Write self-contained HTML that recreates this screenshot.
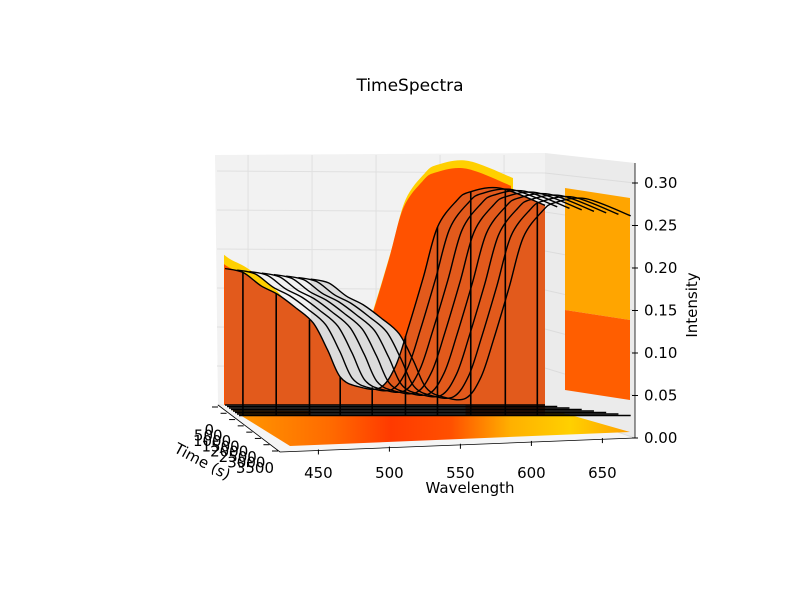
<!DOCTYPE html>
<html><head><meta charset="utf-8"><style>
body{margin:0;background:#fff}
svg text{font-family:"DejaVu Sans","Liberation Sans",sans-serif;fill:#000}
</style></head><body>
<svg id="chart" width="800" height="600" viewBox="0 0 800 600" xmlns="http://www.w3.org/2000/svg">
<defs>
<linearGradient id="floorGrad" x1="0" x2="1" y1="0" y2="0">
<stop offset="0" stop-color="#ff9a00"/><stop offset="0.25" stop-color="#ff6a00"/><stop offset="0.4" stop-color="#ff3a00"/><stop offset="0.55" stop-color="#ff5000"/><stop offset="0.7" stop-color="#ffb000"/><stop offset="0.85" stop-color="#ffd000"/><stop offset="1" stop-color="#ffa000"/>
</linearGradient>
<clipPath id="backClip"><rect x="224" y="100" width="321" height="330"/></clipPath>
</defs>
<text x="410" y="91" font-size="17" text-anchor="middle">TimeSpectra</text>
<polygon points="215,155 545,153 545,410 218,405" fill="#f2f2f2"/>
<polygon points="545,153 635,163 635,438 545,410" fill="#ebebeb"/>
<polygon points="218,405 545,410 635,438 280,452" fill="#f5f5f5"/>
<g id="grid"></g>
<polygon points="232,410 560,412 630,432 290,446" fill="url(#floorGrad)"/>
<g id="fills" clip-path="url(#backClip)"></g>
<polygon points="565,188 630,198 630,320 565,310" fill="#ffa500"/>
<polygon points="565,310 630,320 630,400 565,390" fill="#ff5e00"/>
<g id="lines"></g>
<g id="axes"></g>
<text x="470" y="493" font-size="15" text-anchor="middle">Wavelength</text>
<text x="697" y="305" font-size="15" text-anchor="middle" transform="rotate(-90 697 305)">Intensity</text>
<text x="200" y="466" font-size="15" text-anchor="middle" transform="rotate(28 200 466)">Time (s)</text>
</svg>
<script>
const wavelengths=[432,446,460,473,487,501,512,522,535,553,565,575,587,598,613,623,647,682];
const baseIntensity=[0.175,0.17,0.153,0.142,0.125,0.105,0.071,0.036,0.024,0.022,0.049,0.098,0.164,0.228,0.262,0.273,0.278,0.256];
const times=[0,500,1000,1500,2000,2500,3000,3500];
const peakShift=[0,8,16,24,32,40,48,56];
const stemWavelengths=[446,472,498,522,547,573,598,624,651,676];
const xTicks=[450,500,550,600,650];
const zTicks=[0,0.05,0.1,0.15,0.2,0.25,0.3];
const zTickLabels=["0.00","0.05","0.10","0.15","0.20","0.25","0.30"];
const NS="http://www.w3.org/2000/svg";
function X(w,k){return 225+(w-432)*1.28+k*2;}
function Y(z,k){return 405+k*1.5-z*780;}
function mk(tag,parent,attrs){const e=document.createElementNS(NS,tag);for(const a in attrs)e.setAttribute(a,attrs[a]);parent.appendChild(e);return e;}
function interp(w){if(w<=wavelengths[0])return baseIntensity[0];for(let i=1;i<wavelengths.length;i++){if(w<=wavelengths[i]){const f=(w-wavelengths[i-1])/(wavelengths[i]-wavelengths[i-1]);return baseIntensity[i-1]+f*(baseIntensity[i]-baseIntensity[i-1]);}}return baseIntensity[baseIntensity.length-1];}
const grid=document.getElementById('grid'),fills=document.getElementById('fills'),lines=document.getElementById('lines'),axes=document.getElementById('axes');
xTicks.forEach(w=>{const l=mk('line',grid,{x1:X(w,0),x2:X(w,0),y1:155,y2:405,stroke:'#e0e0e0'});

});
zTicks.forEach(z=>{const y=Y(z,0);if(y<156)return;const l=mk('line',grid,{x1:217,x2:545,y1:y,y2:y+2,stroke:'#e0e0e0'});


const r=mk('line',grid,{x1:545,x2:635,y1:y+2,y2:438-z*850,stroke:'#dcdcdc'});

});
function curvePts(k,dx,dz){return wavelengths.map((w,i)=>[X(w+peakShift[k],k)+(dx||0),Y(baseIntensity[i]+(dz||0),k)]);}
function smooth(p){let d='M'+p[0][0]+','+p[0][1];for(let i=0;i<p.length-1;i++){const p0=p[Math.max(i-1,0)],p1=p[i],p2=p[i+1],p3=p[Math.min(i+2,p.length-1)];
const c1x=p1[0]+(p2[0]-p0[0])/6,c1y=p1[1]+(p2[1]-p0[1])/6,c2x=p2[0]-(p3[0]-p1[0])/6,c2y=p2[1]-(p3[1]-p1[1])/6;
d+=' C'+c1x+','+c1y+' '+c2x+','+c2y+' '+p2[0]+','+p2[1];}return d;}
function area(p,k,color,name){const d=smooth(p)+' L'+p[p.length-1][0]+','+Y(0,k)+' L'+p[0][0]+','+Y(0,k)+' Z';const e=mk('path',fills,{d:d,fill:color});

}
area(curvePts(0,-32,0.035),0,'#ffd000','wall-projection-yellow');
area(curvePts(0,-34,0.025),0,'#ff5200','wall-projection-orange');
const last=times.length-1;
area(curvePts(last),last,'#dcdcdc','fill-slice-last');
area(curvePts(last).filter((q,i)=>wavelengths[i]>=540),last,'#d9581f','fill-slice-last-right');
area(curvePts(0),0,'#e25a1c','fill-slice-first');
times.forEach((t,k)=>{const p=mk('path',lines,{d:smooth(curvePts(k)),fill:'none',stroke:'#000','stroke-width':1.4});


const b=mk('line',lines,{x1:X(432,k),x2:X(682+peakShift[k],k),y1:Y(0,k),y2:Y(0,k),stroke:'#000','stroke-width':1.4});

});
stemWavelengths.forEach(w=>{const x=X(w,0);const s=mk('line',lines,{x1:x,x2:x,y1:Y(interp(w),0),y2:Y(0,last),stroke:'#000','stroke-width':1.6});

});
const za=mk('line',axes,{x1:635,x2:635,y1:163,y2:438,stroke:'#000','stroke-width':0.8});


zTicks.forEach((z,i)=>{const y=438-z*850;const tk=mk('line',axes,{x1:632,x2:638,y1:y,y2:y,stroke:'#000'});


const tx=mk('text',axes,{x:644,y:y+5,'font-size':15});tx.textContent=zTickLabels[i];

});
const xa=mk('line',axes,{x1:280,x2:635,y1:452,y2:438,stroke:'#000','stroke-width':0.8});


xTicks.forEach(w=>{const x=290+(w-430)*1.42;const y=452-(x-280)*0.04;const tk=mk('line',axes,{x1:x,x2:x,y1:y-1,y2:y+4,stroke:'#000'});


const tx=mk('text',axes,{x:x,y:478,'font-size':15,'text-anchor':'middle'});tx.textContent=w;

});
const ya=mk('line',axes,{x1:218,x2:280,y1:405,y2:452,stroke:'#000','stroke-width':0.8});


times.forEach((t,k)=>{const f=k/last;const x=218+f*60,y=407+f*44;const tk=mk('line',axes,{x1:x-6,x2:x,y1:y,y2:y,stroke:'#000'});


const tx=mk('text',axes,{x:x-4,y:y+28-f*6,'font-size':15,'text-anchor':'end'});tx.textContent=t;

});
</script>
</body></html>
